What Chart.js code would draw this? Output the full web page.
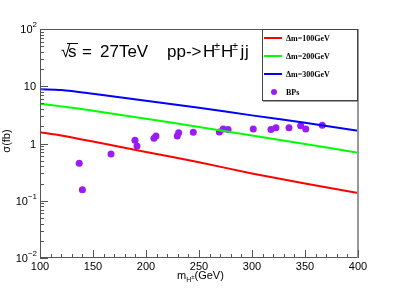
<!DOCTYPE html>
<html>
<head>
<meta charset="utf-8">
<script src="https://cdn.jsdelivr.net/npm/chart.js@4.4.0/dist/chart.umd.min.js"></script>
<style>
  html, body { margin: 0; padding: 0; background: #fff; }
  #c { display: block; }
</style>
</head>
<body>
<canvas id="c" width="399" height="288"></canvas>
<script>
// curve masses (GeV) and cross sections (fb)
const curveMass = [100, 120, 150, 200, 250, 300, 350, 400];
const dm100 = [1.57, 1.38, 1.08, 0.71, 0.47, 0.30, 0.20, 0.136];
const dm200 = [4.96, 4.45, 3.75, 2.70, 1.95, 1.38, 0.98, 0.69];
const dm300 = [8.85, 8.6, 7.4, 5.6, 4.22, 3.1, 2.3, 1.67];

// benchmark points
const bpMass = [137, 140, 167, 189.6, 191.5, 207.5, 209.4, 229.5, 230.8, 244.6,
                269.2, 272.9, 277.4, 301.2, 317.9, 322.6, 334.9, 345.9, 350.7, 366.3];
const bpXsec = [0.45, 0.156, 0.656, 1.14, 0.90, 1.23, 1.35, 1.35, 1.54, 1.57,
                1.59, 1.79, 1.76, 1.79, 1.76, 1.89, 1.89, 2.05, 1.79, 2.08];

const xTicks = [100, 150, 200, 250, 300, 350, 400];
const yExponents = [-2, -1, 0, 1, 2];
const legendLabels = ["\u0394m=100GeV", "\u0394m=200GeV", "\u0394m=300GeV", "BPs"];
const lineColors = ["#ff0000", "#00ff00", "#0000ff"];
const bpColor = "#9b1cf2";

const toXY = (xs, ys) => xs.map((x, i) => ({ x: x, y: ys[i] }));

const SANS = "'Liberation Sans', Arial, sans-serif";
const SERIF = "'Liberation Serif', 'Times New Roman', serif";

const rootFrame = {
    id: "rootFrame",
    afterDatasetsDraw(chart) {
        const ctx = chart.ctx;
        const a = chart.chartArea;
        const xs = chart.scales.x, ys = chart.scales.y;
        ctx.save();
        ctx.strokeStyle = "#555";
        ctx.lineWidth = 1;
        ctx.strokeRect(a.left + 0.5, a.top + 0.5, a.right - a.left - 1, a.bottom - a.top - 1);
        ctx.strokeStyle = "#999";
        ctx.lineWidth = 2;
        ctx.beginPath();
        ctx.moveTo(a.right, a.top); ctx.lineTo(a.right, a.bottom);
        ctx.stroke();

        // x ticks (inward)
        ctx.strokeStyle = "#555";
        ctx.lineWidth = 1;
        ctx.beginPath();
        for (let v = 100; v <= 400; v += 10) {
            const px = Math.round(xs.getPixelForValue(v)) + 0.5;
            const len = (v % 50 === 0) ? 8 : 4;
            ctx.moveTo(px, a.bottom);
            ctx.lineTo(px, a.bottom - len);
        }
        // y ticks (log)
        for (let e = -2; e < 2; e++) {
            for (let m = 1; m <= 9; m++) {
                const v = m * Math.pow(10, e);
                const py = Math.round(ys.getPixelForValue(v)) + 0.5;
                const len = m === 1 ? 8 : 4;
                ctx.moveTo(a.left, py);
                ctx.lineTo(a.left + len, py);
            }
        }
        ctx.stroke();
        ctx.restore();
    },
    afterDraw(chart) {
        const ctx = chart.ctx;
        const xs = chart.scales.x, ys = chart.scales.y;
        ctx.save();
        ctx.fillStyle = "#000";

        // x tick labels
        ctx.font = "11px " + SANS;
        ctx.textAlign = "center";
        ctx.textBaseline = "alphabetic";
        xTicks.forEach(v => ctx.fillText(String(v), xs.getPixelForValue(v), 270));

        // y tick labels
        yExponents.forEach(e => {
            const py = ys.getPixelForValue(Math.pow(10, e));
            const right = 37;
            ctx.textBaseline = "middle";
            if (e === 0 || e === 1) {
                ctx.font = "11px " + SANS;
                ctx.textAlign = "right";
                ctx.fillText(e === 0 ? "1" : "10", right - 1, py + 1);
            } else {
                const sup = e < 0 ? "\u2212" + Math.abs(e) : String(e);
                ctx.font = "8px " + SANS;
                const sw = ctx.measureText(sup).width;
                ctx.textAlign = "left";
                ctx.fillText(sup, right - sw, py - 4);
                ctx.font = "11px " + SANS;
                ctx.textAlign = "right";
                ctx.fillText("10", right - sw, py + 1);
            }
        });

        // x axis title m_{H^{±}}(GeV)
        ctx.textAlign = "left";
        ctx.textBaseline = "alphabetic";
        let x = 177;
        const xb = 279;
        ctx.font = "11px " + SANS;
        ctx.fillText("m", x, xb); x += ctx.measureText("m").width;
        ctx.font = "7px " + SANS;
        ctx.fillText("H", x, xb + 3); x += ctx.measureText("H").width;
        ctx.font = "6px " + SANS;
        ctx.fillText("\u00b1", x, xb);
        x += ctx.measureText("\u00b1").width;
        ctx.font = "11px " + SANS;
        ctx.fillText("(GeV)", x, xb);

        // y axis title
        ctx.save();
        ctx.translate(10, 141);
        ctx.rotate(-Math.PI / 2);
        ctx.textAlign = "center";
        ctx.font = "11px " + SANS;
        ctx.fillText("\u03c3(fb)", 0, 0);
        ctx.restore();

        // plot text
        ctx.textAlign = "left";
        const base = 57;
        ctx.font = "17px " + SANS;
        ctx.fillText("\u221a", 61, base);
        ctx.fillText("s", 68, base);
        ctx.strokeStyle = "#000";
        ctx.lineWidth = 1;
        ctx.beginPath();
        ctx.moveTo(67, base - 13.5); ctx.lineTo(78, base - 13.5);
        ctx.stroke();
        ctx.fillText("=", 82, base);
        ctx.fillText("27TeV", 100, base);
        ctx.fillText("pp->", 167, base);
        ctx.fillText("H", 203, base);
        ctx.fillText("H", 221, base);
        ctx.fillText("j", 240.5, base);
        ctx.fillText("j", 245, base);
        ctx.font = "11px " + SANS;
        ctx.fillText("\u00b1", 214, base - 7);
        ctx.fillText("\u00b1", 232, base - 7);

        // legend
        const lx = 262, ly = 29, lw = 96, lh = 72;
        ctx.fillStyle = "#fff";
        ctx.fillRect(lx, ly, lw, lh);
        ctx.strokeStyle = "#444";
        ctx.lineWidth = 1;
        ctx.strokeRect(lx + 0.5, ly + 0.5, lw - 1, lh - 1);
        ctx.beginPath();
        ctx.moveTo(lx + 1, ly + lh); ctx.lineTo(lx + lw, ly + lh);
        ctx.stroke();
        const rows = [38, 56, 74, 92];
        ctx.font = "bold 8px " + SERIF;
        ctx.textBaseline = "middle";
        legendLabels.forEach((lab, i) => {
            const ry = rows[i];
            if (i < 3) {
                ctx.strokeStyle = lineColors[i];
                ctx.lineWidth = 2;
                ctx.beginPath();
                ctx.moveTo(264, ry); ctx.lineTo(282, ry);
                ctx.stroke();
            } else {
                ctx.fillStyle = bpColor;
                ctx.beginPath();
                ctx.arc(274, ry, 3, 0, Math.PI * 2);
                ctx.fill();
            }
            ctx.fillStyle = "#000";
            ctx.fillText(lab, 286, ry + 0.5);
        });
        ctx.restore();
    }
};

const lineSet = (data, color) => ({
    data: toXY(curveMass, data),
    showLine: true,
    borderColor: color,
    borderWidth: 2,
    pointRadius: 0,
    tension: 0.3,
    fill: false
});

new Chart(document.getElementById("c"), {
    type: "scatter",
    data: {
        datasets: [
            lineSet(dm100, lineColors[0]),
            lineSet(dm200, lineColors[1]),
            lineSet(dm300, lineColors[2]),
            {
                data: toXY(bpMass, bpXsec),
                backgroundColor: bpColor,
                borderColor: bpColor,
                borderWidth: 0,
                pointRadius: 3.5
            }
        ]
    },
    options: {
        responsive: false,
        animation: false,
        devicePixelRatio: 1,
        layout: { padding: { left: 40, top: 29, right: 41, bottom: 30 } },
        scales: {
            x: { type: "linear", min: 100, max: 400, display: false },
            y: { type: "logarithmic", min: 0.01, max: 100, display: false }
        },
        plugins: { legend: { display: false }, tooltip: { enabled: false } }
    },
    plugins: [rootFrame]
});
</script>
</body>
</html>
